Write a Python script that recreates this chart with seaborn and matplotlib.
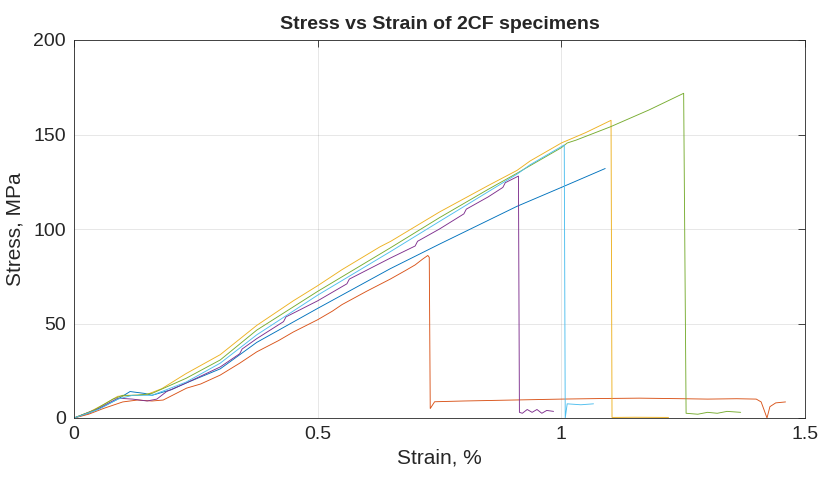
import numpy as np
import pandas as pd
import seaborn as sns
import matplotlib.pyplot as plt

# strain (%) / stress (MPa), one pair of lists per specimen
s1_x = [0, 0.03, 0.06, 0.09, 0.115, 0.145, 0.16, 0.2, 0.23, 0.3, 0.375, 0.5, 0.649, 0.75, 0.909, 1.0, 1.09]
s1_y = [0, 2.5, 6, 10, 14, 13, 12, 15, 18.5, 26, 40, 58, 79, 92, 112, 122, 132]

s2_x = [0, 0.03, 0.06, 0.1, 0.13, 0.16, 0.183, 0.231, 0.26, 0.3, 0.34, 0.375, 0.42, 0.45, 0.5, 0.53, 0.55,
        0.6, 0.649, 0.68, 0.7, 0.715, 0.726, 0.729, 0.731, 0.74, 0.8, 0.9, 1.0, 1.08, 1.16, 1.25, 1.3, 1.36,
        1.4, 1.41, 1.415, 1.422, 1.428, 1.44, 1.46]
s2_y = [0, 2, 5, 8.5, 9.5, 9, 9.5, 15.8, 18, 22.7, 29, 35, 41, 45.5, 52, 56.5, 60,
        67, 73.5, 78, 81, 84, 86, 85, 5, 8.6, 9, 9.5, 10, 10.3, 10.5, 10.2, 10, 10.2,
        10, 8.5, 5, 0, 6, 8, 8.5]

s3_x = [0, 0.03, 0.06, 0.09, 0.12, 0.15, 0.18, 0.23, 0.3, 0.375, 0.45, 0.5, 0.55, 0.628, 0.65, 0.75,
        0.85, 0.909, 0.936, 1.0, 1.05, 1.102, 1.104, 1.15, 1.22]
s3_y = [0, 3, 7, 11.5, 12, 12.5, 15.5, 23.5, 33.5, 49, 62, 70, 78.5, 90.6, 93.5, 109,
        123, 131, 136, 145.5, 151, 157.5, 0.3, 0.4, 0.3]

s4_x = [0, 0.05, 0.09, 0.12, 0.15, 0.17, 0.19, 0.23, 0.3, 0.34, 0.345, 0.375, 0.43, 0.435, 0.5,
        0.56, 0.565, 0.649, 0.7, 0.705, 0.75, 0.8, 0.805, 0.85, 0.88, 0.885, 0.912,
        0.914, 0.92, 0.93, 0.94, 0.95, 0.96, 0.97, 0.984]
s4_y = [0, 5, 10.5, 10, 9, 10, 14, 18.5, 27, 34, 36.5, 42, 51, 53.5, 62,
        71, 73.5, 84.6, 91, 93.5, 100, 108, 110.5, 117, 122, 124.5, 128,
        3, 2.5, 4.5, 3, 4.5, 2.5, 4, 3.5]

s5_x = [0, 0.04, 0.08, 0.1, 0.13, 0.16, 0.23, 0.3, 0.375, 0.5, 0.649, 0.75, 0.85, 0.909, 1.0, 1.012,
        1.03, 1.1, 1.18, 1.251, 1.256, 1.28, 1.3, 1.32, 1.34, 1.368]
s5_y = [0, 4, 10, 12, 12, 13, 21, 30.7, 46.5, 67, 90, 106, 121, 129.5, 143, 145.5,
        147, 154, 163, 171.8, 2.5, 2, 3, 2.5, 3.5, 3]

s6_x = [0, 0.05, 0.09, 0.12, 0.16, 0.23, 0.3, 0.375, 0.5, 0.649, 0.75, 0.909, 0.936, 1.006,
        1.008, 1.012, 1.04, 1.066]
s6_y = [0, 4.5, 10, 12, 12, 19, 29, 44, 65, 88, 104, 129, 134, 144.5,
        0, 7.5, 7, 7.5]

names = ["1", "2", "3", "4", "5", "6"]
colors = ["#0072BD", "#D95319", "#EDB120", "#7E2F8E", "#77AC30", "#4DBEEE"]

rows = []
for n, xs, ys in zip(names, [s1_x, s2_x, s3_x, s4_x, s5_x, s6_x],
                     [s1_y, s2_y, s3_y, s4_y, s5_y, s6_y]):
    for i, (a, b) in enumerate(zip(xs, ys)):
        rows.append({"specimen": n, "order": i, "strain": a, "stress": b})
df = pd.DataFrame(rows)

sns.set_theme(style="whitegrid")
plt.rcParams['font.family'] = ['Liberation Sans', 'DejaVu Sans']

fig = plt.figure(figsize=(8.19, 4.78), dpi=100)
ax = fig.add_axes([74 / 819, 1 - 418 / 478, (805 - 74) / 819, (418 - 40) / 478])
sns.lineplot(data=df, x="strain", y="stress", hue="specimen", palette=colors,
             estimator=None, sort=False, linewidth=0.65, legend=False, ax=ax)

ax.set_xlim(0, 1.5)
ax.set_ylim(0, 200)
ax.set_xticks([0, 0.5, 1, 1.5])
ax.set_xticklabels(["0", "0.5", "1", "1.5"])
ax.set_yticks([0, 50, 100, 150, 200])
ax.set_facecolor("white")
ax.grid(True, color="#262626", alpha=0.13, linewidth=0.6)
for sp in ax.spines.values():
    sp.set_visible(True)
    sp.set_color("#262626")
    sp.set_linewidth(0.6)
ax.tick_params(direction="in", length=5, width=0.6, color="#262626", labelsize=14,
               labelcolor="#262626", top=True, right=True, pad=6)
ax.set_xlabel("Strain, %", fontsize=15, color="#262626", labelpad=4)
ax.set_ylabel("Stress, MPa", fontsize=15, color="#262626", labelpad=6)
ax.set_title("Stress vs Strain of 2CF specimens", fontsize=14, fontweight="bold", pad=8)

fig.savefig("out.png", dpi=100)
